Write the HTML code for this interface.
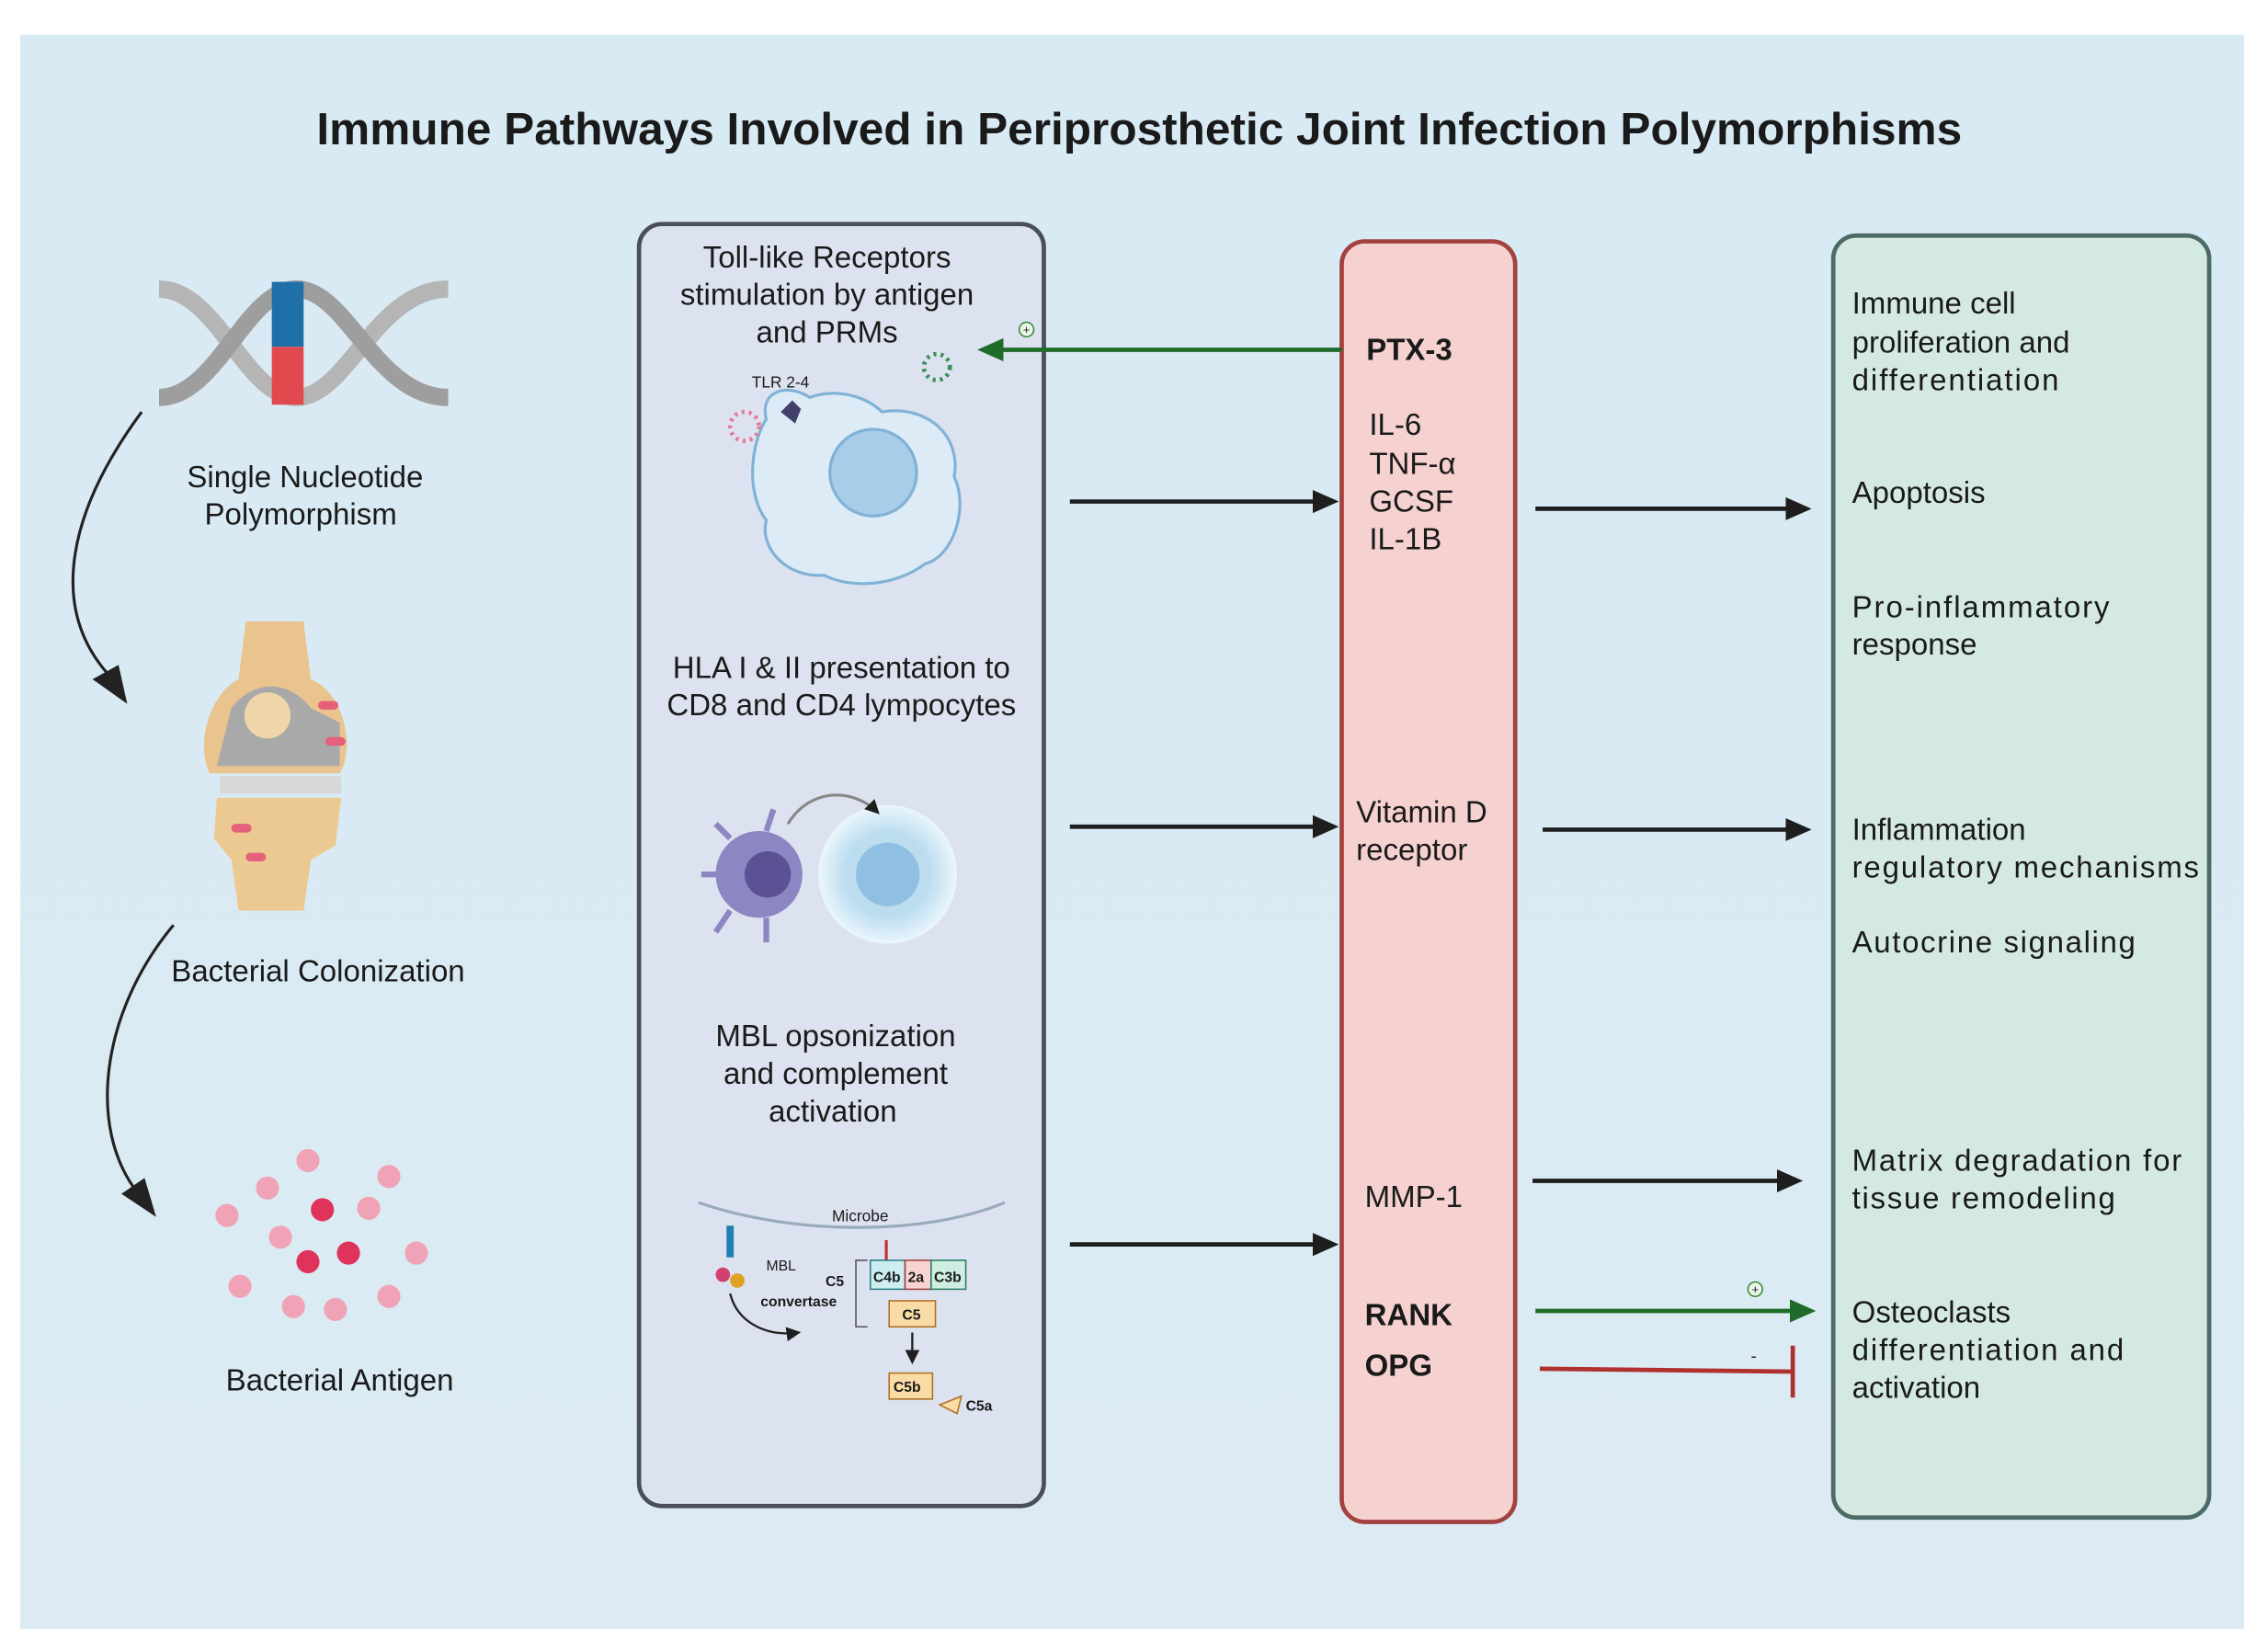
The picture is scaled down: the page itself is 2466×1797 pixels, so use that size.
<!DOCTYPE html>
<html><head><meta charset="utf-8"><style>html,body{margin:0;padding:0;background:#fff}svg{display:block}text{font-family:"Liberation Sans",sans-serif;fill:#1a1a1a}</style></head><body>
<svg width="2466" height="1797" viewBox="0 0 1568 1143" preserveAspectRatio="none" xmlns="http://www.w3.org/2000/svg">
<defs>
<linearGradient id="bg" x1="0" y1="0" x2="0" y2="1"><stop offset="0" stop-color="#d8eaf4"/><stop offset="1" stop-color="#dcebf3"/></linearGradient>
<marker id="ak" markerWidth="18" markerHeight="18" refX="14" refY="9" orient="auto" markerUnits="userSpaceOnUse"><path d="M0,1 L18,9 L0,17 z" fill="#1e1e1e"/></marker>
<marker id="ag" markerWidth="18" markerHeight="18" refX="14" refY="9" orient="auto" markerUnits="userSpaceOnUse"><path d="M0,1 L18,9 L0,17 z" fill="#1f6b2a"/></marker>
<marker id="as" markerWidth="10" markerHeight="10" refX="8" refY="5" orient="auto" markerUnits="userSpaceOnUse"><path d="M0,0 L10,5 L0,10 z" fill="#1e1e1e"/></marker>
<radialGradient id="cell" cx="0.5" cy="0.5" r="0.5"><stop offset="0.6" stop-color="#bcdcf0"/><stop offset="1" stop-color="#eaf6fc"/></radialGradient>
</defs>
<rect x="14" y="24" width="1538" height="1103" fill="url(#bg)"/>
<text x="788" y="100" font-size="31" font-weight="bold" text-anchor="middle" fill="#222" textLength="1138" lengthAdjust="spacingAndGlyphs">Immune Pathways Involved in Periprosthetic Joint Infection Polymorphisms</text>

<!-- DNA -->
<g stroke-width="12" fill="none">
<path d="M110,200 C150,200 170,275 205,275 C240,275 260,200 310,200" stroke="#b5b5b5"/>
<path d="M110,275 C150,275 170,200 205,200 C240,200 260,275 310,275" stroke="#9e9e9e"/>
</g>
<rect x="188" y="195" width="22" height="45" fill="#1f6fa8"/>
<rect x="188" y="240" width="22" height="40" fill="#e04a4f"/>
<text x="211" y="337" font-size="21" text-anchor="middle">Single Nucleotide</text>
<text x="208" y="363" font-size="21" text-anchor="middle">Polymorphism</text>
<path d="M98,285 C50,350 30,420 78,470" stroke="#222" stroke-width="2" fill="none"/>
<path d="M64,470 L88,487 L82,460 z" fill="#222"/>
<!-- knee -->
<g>
<path d="M170,430 L210,430 L215,470 C240,480 245,520 235,535 L145,535 C135,515 145,480 165,470 z" fill="#e9c48f"/>
<path d="M160,490 C175,470 200,470 215,490 L235,500 L235,530 L150,530 z" fill="#a9a9a9"/>
<circle cx="185" cy="495" r="16" fill="#eed6a8"/>
<rect x="152" y="537" width="84" height="12" fill="#d8d8d8"/>
<path d="M150,552 L236,552 L232,585 L215,595 L210,630 L165,630 L160,595 L148,580 z" fill="#ecc991"/>
<rect x="220" y="485" width="14" height="6" rx="3" fill="#e5607a"/>
<rect x="225" y="510" width="14" height="6" rx="3" fill="#e5607a"/>
<rect x="160" y="570" width="14" height="6" rx="3" fill="#e5607a"/>
<rect x="170" y="590" width="14" height="6" rx="3" fill="#e5607a"/>
</g>
<text x="220" y="679" font-size="21" text-anchor="middle">Bacterial Colonization</text>
<path d="M120,640 C70,700 60,780 95,825" stroke="#222" stroke-width="2" fill="none"/>
<path d="M84,826 L108,842 L100,815 z" fill="#222"/>
<g fill="#f0a3b6">
<circle cx="213" cy="803" r="8"/><circle cx="269" cy="814" r="8"/><circle cx="185" cy="822" r="8"/><circle cx="255" cy="836" r="8"/><circle cx="157" cy="841" r="8"/><circle cx="194" cy="856" r="8"/><circle cx="288" cy="867" r="8"/><circle cx="166" cy="890" r="8"/><circle cx="203" cy="904" r="8"/><circle cx="232" cy="906" r="8"/><circle cx="269" cy="897" r="8"/>
</g>
<g fill="#e0335c"><circle cx="223" cy="837" r="8"/><circle cx="241" cy="867" r="8"/><circle cx="213" cy="873" r="8"/></g>
<text x="235" y="962" font-size="21" text-anchor="middle">Bacterial Antigen</text>

<!-- left box -->
<rect x="442" y="155" width="280" height="887" rx="16" fill="#dde2f0" stroke="#4a4e58" stroke-width="3"/>
<text x="572" y="185" font-size="21" text-anchor="middle">Toll-like Receptors</text>
<text x="572" y="211" font-size="21" text-anchor="middle">stimulation by antigen</text>
<text x="572" y="237" font-size="21" text-anchor="middle">and PRMs</text>
<text x="520" y="268" font-size="11">TLR 2-4</text>
<path d="M530,290 C525,270 545,265 560,275 C580,268 600,275 610,285 C640,280 665,300 660,330 C670,350 660,385 640,390 C620,405 590,408 570,398 C545,400 525,380 530,360 C515,340 520,305 530,290 z" fill="#dcebf6" stroke="#7fb2d6" stroke-width="2"/>
<circle cx="604" cy="327" r="30" fill="#a7cde9" stroke="#7fb2d6" stroke-width="2"/>
<circle cx="515" cy="295" r="10" fill="none" stroke="#e5799a" stroke-width="3" stroke-dasharray="2 3"/>
<circle cx="648" cy="254" r="9" fill="none" stroke="#3b8f5a" stroke-width="3" stroke-dasharray="2 3"/>
<path d="M540,285 l8,-8 l6,6 l-4,10 z" fill="#40406a"/>
<text x="582" y="469" font-size="21" text-anchor="middle">HLA I &amp; II presentation to</text>
<text x="582" y="495" font-size="21" text-anchor="middle">CD8 and CD4 lympocytes</text>
<circle cx="525" cy="605" r="30" fill="#8c86c2"/>
<circle cx="531" cy="605" r="16" fill="#5a5294"/>
<g stroke="#8c86c2" stroke-width="4"><line x1="495" y1="605" x2="485" y2="605"/><line x1="505" y1="580" x2="495" y2="570"/><line x1="505" y1="630" x2="495" y2="645"/><line x1="530" y1="635" x2="530" y2="652"/><line x1="530" y1="575" x2="535" y2="560"/></g>
<circle cx="614" cy="605" r="48" fill="url(#cell)"/>
<circle cx="614" cy="605" r="22" fill="#8fbfe3"/>
<path d="M545,570 C560,545 590,545 607,562" stroke="#888" stroke-width="2" fill="none" marker-end="url(#as)"/>
<text x="578" y="724" font-size="21" text-anchor="middle">MBL opsonization</text>
<text x="578" y="750" font-size="21" text-anchor="middle">and complement</text>
<text x="576" y="776" font-size="21" text-anchor="middle">activation</text>
<path d="M483,832 C550,855 640,855 695,832" stroke="#9ab" stroke-width="2" fill="none"/>
<text x="595" y="845" font-size="11" text-anchor="middle">Microbe</text>
<path d="M505,848 v22" stroke="#1e7fb0" stroke-width="5"/>
<circle cx="500" cy="882" r="5" fill="#d04070"/><circle cx="510" cy="886" r="5" fill="#e0a020"/>
<text x="530" y="879" font-size="10">MBL</text>
<text x="571" y="890" font-size="10" font-weight="bold">C5</text>
<text x="526" y="904" font-size="10" font-weight="bold">convertase</text>
<path d="M505,895 C510,915 530,925 552,922" stroke="#222" stroke-width="1.5" fill="none" marker-end="url(#as)"/>
<path d="M600,872 L592,872 L592,918 L600,918" stroke="#555" fill="none"/>
<line x1="613" y1="858" x2="613" y2="872" stroke="#c03030" stroke-width="2"/>
<rect x="602" y="872" width="24" height="20" fill="#cdeef0" stroke="#2d7c86"/><rect x="626" y="872" width="18" height="20" fill="#f8d4d0" stroke="#a0413f"/><rect x="644" y="872" width="24" height="20" fill="#cdeee0" stroke="#2d7c66"/>
<text x="604" y="887" font-size="10" font-weight="bold">C4b</text><text x="628" y="887" font-size="10" font-weight="bold">2a</text><text x="646" y="887" font-size="10" font-weight="bold">C3b</text>
<rect x="615" y="900" width="32" height="18" fill="#f9dba6" stroke="#b07020"/><text x="624" y="913" font-size="10" font-weight="bold">C5</text>
<line x1="631" y1="922" x2="631" y2="942" stroke="#222" stroke-width="1.5" marker-end="url(#as)"/>
<rect x="615" y="950" width="30" height="18" fill="#f9dba6" stroke="#b07020"/><text x="618" y="963" font-size="10" font-weight="bold">C5b</text>
<path d="M650,972 L665,966 L662,978 z" fill="#f9dba6" stroke="#b07020"/>
<text x="668" y="976" font-size="10" font-weight="bold">C5a</text>

<!-- middle box -->
<rect x="928" y="167" width="120" height="886" rx="16" fill="#f5d1d0" stroke="#a3413f" stroke-width="3"/>
<text x="945" y="249" font-size="21" font-weight="bold">PTX-3</text>
<text x="947" y="301" font-size="21">IL-6</text>
<text x="947" y="328" font-size="21">TNF-α</text>
<text x="947" y="354" font-size="21">GCSF</text>
<text x="947" y="380" font-size="21">IL-1B</text>
<text x="938" y="569" font-size="21">Vitamin D</text>
<text x="938" y="595" font-size="21">receptor</text>
<text x="944" y="835" font-size="21">MMP-1</text>
<text x="944" y="917" font-size="21" font-weight="bold">RANK</text>
<text x="944" y="952" font-size="21" font-weight="bold">OPG</text>

<!-- right box -->
<rect x="1268" y="163" width="260" height="887" rx="16" fill="#d5e9e3" stroke="#4c6b66" stroke-width="3"/>
<g font-size="21">
<text x="1281" y="217">Immune cell</text><text x="1281" y="244">proliferation and</text><text x="1281" y="270" textLength="143">differentiation</text>
<text x="1281" y="348">Apoptosis</text>
<text x="1281" y="427" textLength="178">Pro-inflammatory</text><text x="1281" y="453">response</text>
<text x="1281" y="581">Inflammation</text><text x="1281" y="607" textLength="240">regulatory mechanisms</text>
<text x="1281" y="659" textLength="196">Autocrine signaling</text>
<text x="1281" y="810" textLength="228">Matrix degradation for</text><text x="1281" y="836" textLength="182">tissue remodeling</text>
<text x="1281" y="915">Osteoclasts</text><text x="1281" y="941" textLength="188">differentiation and</text><text x="1281" y="967">activation</text>
</g>

<!-- arrows -->
<line x1="928" y1="242" x2="680" y2="242" stroke="#1f6b2a" stroke-width="3" marker-end="url(#ag)"/>
<circle cx="710" cy="228" r="5" fill="#e8f5e8" stroke="#3a8a3a"/><text x="710" y="231" font-size="8" text-anchor="middle" fill="#3a8a3a">+</text>
<g stroke="#1e1e1e" stroke-width="3">
<line x1="740" y1="347" x2="922" y2="347" marker-end="url(#ak)"/>
<line x1="740" y1="572" x2="922" y2="572" marker-end="url(#ak)"/>
<line x1="740" y1="861" x2="922" y2="861" marker-end="url(#ak)"/>
<line x1="1062" y1="352" x2="1249" y2="352" marker-end="url(#ak)"/>
<line x1="1067" y1="574" x2="1249" y2="574" marker-end="url(#ak)"/>
<line x1="1060" y1="817" x2="1243" y2="817" marker-end="url(#ak)"/>
</g>
<line x1="1062" y1="907" x2="1252" y2="907" stroke="#1f6b2a" stroke-width="3" marker-end="url(#ag)"/>
<circle cx="1214" cy="892" r="5" fill="#e8f5e8" stroke="#3a8a3a"/><text x="1214" y="895" font-size="8" text-anchor="middle" fill="#3a8a3a">+</text>
<path d="M1065,947 L1240,949 M1240,931 L1240,967" stroke="#b0302e" stroke-width="3" fill="none"/>
<text x="1213" y="942" font-size="12" text-anchor="middle" fill="#b0302e">-</text>
</svg>
</body></html>
